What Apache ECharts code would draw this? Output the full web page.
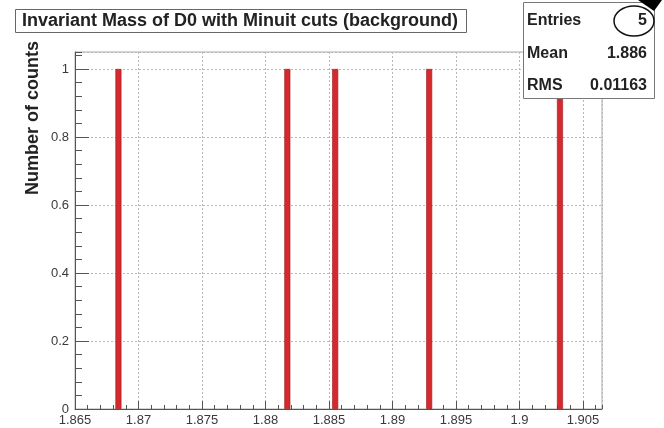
<!DOCTYPE html>
<html><head><meta charset="utf-8">
<script src="https://cdn.jsdelivr.net/npm/echarts@6/dist/echarts.min.js"></script>
<style>html,body{margin:0;padding:0;background:#fff}#c{width:664px;height:428px}</style>
</head><body><div id="c"></div>
<script>
// Data
const massValues = [1.86842, 1.88172, 1.88549, 1.89289, 1.90319];
const counts = [1, 1, 1, 1, 1];
const titleText = 'Invariant Mass of D0 with Minuit cuts (background)';
const yTitle = 'Number of counts';
const statLabels = ['Entries', 'Mean', 'RMS'];
const statValues = ['5', '1.886', '0.01163'];

const chart = echarts.init(document.getElementById('c'), null, {renderer: 'canvas'});
const fmt = v => String(parseFloat(v.toFixed(4)));
const gridCol = '#b8b8b8';
const axisCol = '#555';
const labelFont = {fontFamily: 'Liberation Sans', fontSize: 13, color: '#3a3a3a'};
const bold = s => 'bold ' + s + 'px "Liberation Sans"';

const option = {
  backgroundColor: '#fff',
  animation: false,
  grid: {left: 75, right: 62, top: 52, bottom: 19, show: true, borderColor: '#aaa', borderWidth: 1},
  xAxis: [{
    type: 'value', min: 1.865, max: 1.9065, interval: 0.005,
    axisLine: {show: true, onZero: false, lineStyle: {color: axisCol}},
    axisTick: {show: true, inside: true, length: 8, lineStyle: {color: axisCol}},
    axisLabel: Object.assign({showMaxLabel: false, margin: 5, formatter: fmt}, labelFont),
    splitLine: {show: true, lineStyle: {color: gridCol, type: [2, 2]}}
  }, {
    type: 'value', min: 1.865, max: 1.9065, interval: 0.001, position: 'bottom',
    axisLine: {show: false},
    axisTick: {show: true, inside: true, length: 4, lineStyle: {color: axisCol}},
    axisLabel: {show: false}, splitLine: {show: false}
  }],
  yAxis: [{
    type: 'value', min: 0, max: 1.05, interval: 0.2,
    axisLine: {show: true, onZero: false, lineStyle: {color: axisCol}},
    axisTick: {show: true, inside: true, length: 14, lineStyle: {color: axisCol}},
    axisLabel: Object.assign({showMaxLabel: false, margin: 6, formatter: fmt}, labelFont),
    splitLine: {show: true, lineStyle: {color: gridCol, type: [2, 2]}}
  }, {
    type: 'value', min: 0, max: 1.05, interval: 0.04, position: 'left',
    axisLine: {show: false},
    axisTick: {show: true, inside: true, length: 7, lineStyle: {color: axisCol}},
    axisLabel: {show: false}, splitLine: {show: false}
  }],
  series: [{
    type: 'bar', xAxisIndex: 0, yAxisIndex: 0, barWidth: 6, z: 2,
    data: massValues.map((m, i) => [m, counts[i]]),
    itemStyle: {color: '#d42a2e', borderColor: '#9e1a1e', borderWidth: 0.6}
  }],
  graphic: {
    elements: [
      {type: 'rect', z: 100, shape: {x: 15.5, y: 9.5, width: 451, height: 23}, style: {fill: '#fff', stroke: '#666', lineWidth: 1}},
      {type: 'text', z: 101, x: 22, y: 21, style: {text: titleText, font: bold(18), fill: '#222', textVerticalAlign: 'middle'}},
      {type: 'text', z: 101, x: 33, y: 118, rotation: Math.PI / 2, style: {text: yTitle, font: bold(18), fill: '#222', textAlign: 'center', textVerticalAlign: 'middle'}},
      {type: 'rect', z: 100, shape: {x: 523.5, y: 2.5, width: 131, height: 96}, style: {fill: '#fff', stroke: '#777', lineWidth: 1}},
      {type: 'text', z: 101, x: 527, y: 21, style: {text: statLabels[0], font: bold(16), fill: '#222', textVerticalAlign: 'middle'}},
      {type: 'text', z: 101, x: 527, y: 54, style: {text: statLabels[1], font: bold(16), fill: '#222', textVerticalAlign: 'middle'}},
      {type: 'text', z: 101, x: 527, y: 86, style: {text: statLabels[2], font: bold(16), fill: '#222', textVerticalAlign: 'middle'}},
      {type: 'text', z: 101, x: 647, y: 21, style: {text: statValues[0], font: bold(16), fill: '#222', textAlign: 'right', textVerticalAlign: 'middle'}},
      {type: 'text', z: 101, x: 647, y: 54, style: {text: statValues[1], font: bold(16), fill: '#222', textAlign: 'right', textVerticalAlign: 'middle'}},
      {type: 'text', z: 101, x: 647, y: 86, style: {text: statValues[2], font: bold(16), fill: '#222', textAlign: 'right', textVerticalAlign: 'middle'}},
      {type: 'ellipse', z: 102, shape: {cx: 634, cy: 21, rx: 20, ry: 15}, style: {fill: 'none', stroke: '#111', lineWidth: 1.5}},
      {type: 'polygon', z: 102, shape: {points: [[638, 0], [662, 0], [654, 11]]}, style: {fill: '#000'}}
    ]
  }
};
chart.setOption(option);
</script></body></html>
